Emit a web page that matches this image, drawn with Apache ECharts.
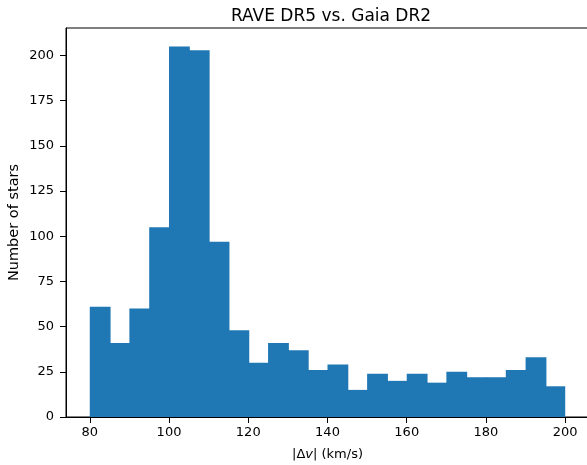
<!DOCTYPE html>
<html>
<head>
<meta charset="utf-8">
<script src="https://cdn.jsdelivr.net/npm/echarts@6/dist/echarts.min.js"></script>
<style>html,body{margin:0;padding:0;background:#fff}#c{width:587px;height:465px}</style>
</head>
<body>
<div id="c"></div>
<script>
const binStarts = [80,85,90,95,100,105,110,115,120,125,130,135,140,145,150,155,160,165,170,175,180,185,190,195];
const binWidth = 5;
const counts = [61,41,60,105,205,203,97,48,30,41,37,26,29,15,24,20,24,19,25,22,22,26,33,17];
const xTicks = [80,100,120,140,160,180,200];
const yTicks = [0,25,50,75,100,125,150,175,200];

const chart = echarts.init(document.getElementById('c'), null, {renderer:'canvas'});
const data = binStarts.map((s,i)=>[s, s+binWidth, counts[i]]);
const font = 'DejaVu Sans';
chart.setOption({
  animation:false,
  backgroundColor:'#fff',
  title:{text:'RAVE DR5 vs. Gaia DR2', left:326, top:3, textAlign:'center',
    textStyle:{fontFamily:font,fontSize:17,fontWeight:'normal',color:'#000'}},
  grid:{left:66, right:-2, top:28, bottom:48, containLabel:false, outerBoundsMode:'none',
    show:true, borderColor:'#000', borderWidth:1, backgroundColor:'transparent'},
  xAxis:{type:'value', min:74, max:206,
    name:'|Δ{i|v}| (km/s)', nameLocation:'middle', nameGap:31, nameMoveOverlap:false,
    nameTextStyle:{fontFamily:font,fontSize:13,color:'#000',
      rich:{i:{fontFamily:font,fontSize:13,fontStyle:'italic',color:'#000'}}},
    axisLine:{show:true,lineStyle:{color:'#000',width:1}},
    axisTick:{show:true,inside:false,length:6,lineStyle:{color:'#000'},customValues:xTicks},
    axisLabel:{fontFamily:font,fontSize:13,color:'#000',margin:9,customValues:xTicks},
    splitLine:{show:false}},
  yAxis:{type:'value', min:0, max:215.25, interval:25,
    name:'Number of stars', nameLocation:'middle', nameGap:44, nameMoveOverlap:false,
    nameTextStyle:{fontFamily:font,fontSize:14.5,color:'#000'},
    axisLine:{show:true,lineStyle:{color:'#000',width:1}},
    axisTick:{show:true,inside:false,length:6,lineStyle:{color:'#000'},customValues:yTicks},
    axisLabel:{fontFamily:font,fontSize:13,color:'#000',margin:12,customValues:yTicks},
    splitLine:{show:false}},
  series:[{type:'custom', data:data,
    encode:{x:[0,1], y:2},
    z:1,
    renderItem:function(params, api){
      const p0 = api.coord([api.value(0), api.value(2)]);
      const p1 = api.coord([api.value(1), 0]);
      const extra = params.dataIndex < counts.length - 1 ? 1 : 0;
      return {type:'rect', shape:{x:p0[0], y:p0[1], width:p1[0]-p0[0]+extra, height:p1[1]-p0[1]},
        style:{fill:'#1f77b4'}};
    }}]
});
</script>
</body>
</html>
